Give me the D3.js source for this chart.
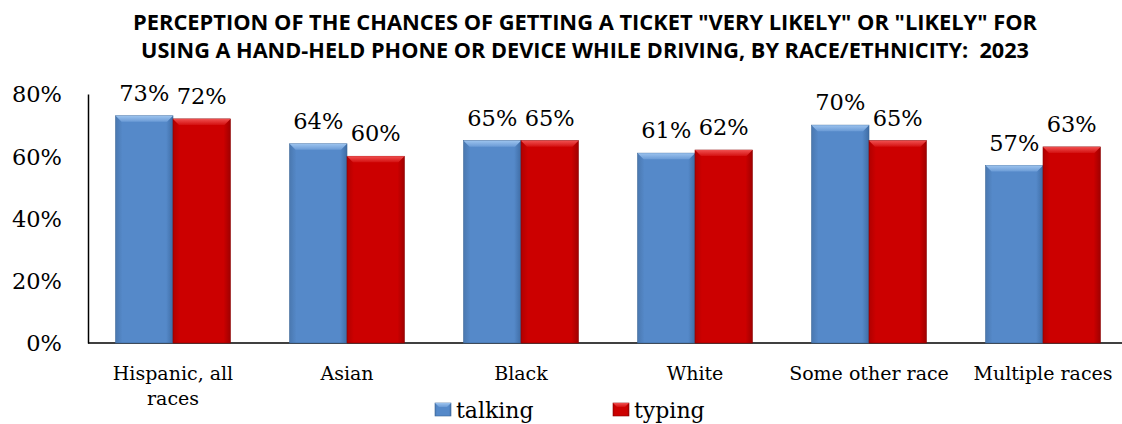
<!DOCTYPE html>
<html><head><meta charset="utf-8">
<script src="https://cdn.jsdelivr.net/npm/d3@7"></script>
<style>body{margin:0;background:#fff}svg{display:block}</style>
</head><body><div id="chart"></div>
<script>
const categories = ["Hispanic, all races","Asian","Black","White","Some other race","Multiple races"];
const categoryLines = [["Hispanic, all","races"],["Asian"],["Black"],["White"],["Some other race"],["Multiple races"]];
const seriesNames = ["talking","typing"];
const talking = [73,64,65,61,70,57];
const typing = [72,60,65,62,65,63];
const yTicks = [0,20,40,60,80];
const titleLines = ["PERCEPTION OF THE CHANCES OF GETTING A TICKET \"VERY LIKELY\" OR \"LIKELY\" FOR","USING A HAND-HELD PHONE OR DEVICE WHILE DRIVING, BY RACE/ETHNICITY:  2023"];

const W=1122,H=424;
const svg=d3.select("#chart").append("svg").attr("width",W).attr("height",H);
const defs=svg.append("defs");
function grad(id,c0,c1,c2){
  const g=defs.append("linearGradient").attr("id",id).attr("x1","0").attr("x2","1").attr("y1","0").attr("y2","0");
  g.append("stop").attr("offset","0").attr("stop-color",c0);
  g.append("stop").attr("offset","0.12").attr("stop-color",c1);
  g.append("stop").attr("offset","0.88").attr("stop-color",c1);
  g.append("stop").attr("offset","1").attr("stop-color",c2);
}
grad("gb","#4a78b0","#5589c9","#3f6da5");
grad("gr","#b00000","#cc0000","#a00000");
const topG=(id,c0,c1)=>{const g=defs.append("linearGradient").attr("id",id).attr("x1","0").attr("x2","0").attr("y1","0").attr("y2","1");
 g.append("stop").attr("offset","0").attr("stop-color",c0);g.append("stop").attr("offset","1").attr("stop-color",c1);};
topG("tb","#9cc3ee","#6b9bd6");
topG("tr","#f05050","#d41010");

const colors={talking:"url(#gb)",typing:"url(#gr)"};
const tops={talking:"url(#tb)",typing:"url(#tr)"};
const strokes={talking:"#3b6596",typing:"#8a0000"};

const x0=d3.scaleBand().domain(categories).range([86,1130]).paddingInner(0.34).paddingOuter(0.17);
const x1=d3.scaleBand().domain(seriesNames).range([0,x0.bandwidth()]);
const y=d3.scaleLinear().domain([0,80]).range([343,94]);

// title
svg.append("g").selectAll("text").data(titleLines).join("text")
 .attr("x",585).attr("y",(d,i)=>30+i*28).attr("text-anchor","middle")
 .attr("xml:space","preserve").style("white-space","pre")
 .attr("font-family","'Liberation Sans Narrow', 'Open Sans', sans-serif").attr("font-weight","bold").attr("font-size",20.5)
 .attr("textLength",(d,i)=>i===0?904:888).attr("lengthAdjust","spacingAndGlyphs")
 .text(d=>d);

// y axis
const yAxis=d3.axisLeft(y).tickValues(yTicks).tickFormat(d=>d+"%").tickSize(0).tickPadding(26);
const ya=svg.append("g").attr("transform","translate(88,0)").call(yAxis);
ya.select(".domain").attr("stroke","#000").attr("stroke-width",1.5);
ya.selectAll("text").attr("font-family","'DejaVu Serif', serif").attr("font-size",22.5).attr("fill","#000").attr("dy","0.35em");

// x axis line
const xa=d3.axisBottom(x0).tickSize(0).tickFormat("");
const xg=svg.append("g").attr("transform","translate(0,343)").call(xa);
xg.select(".domain").attr("stroke","#000").attr("stroke-width",1.5).attr("d","M88,0H1130");

// category labels
const cl=svg.append("g");
categories.forEach((c,i)=>{
  const t=cl.append("text").attr("x",x0(c)+x0.bandwidth()/2).attr("y",380).attr("text-anchor","middle")
   .attr("font-family","'DejaVu Serif', serif").attr("font-size",19).attr("fill","#000");
  categoryLines[i].forEach((l,j)=>t.append("tspan").attr("x",x0(c)+x0.bandwidth()/2).attr("dy",j?25:0).text(l));
});

// bars
const data={talking,typing};
seriesNames.forEach(s=>{
  const g=svg.append("g");
  categories.forEach((c,i)=>{
    const v=data[s][i];
    const bx=x0(c)+x1(s), bw=x1.bandwidth(), by=y(v), bh=y(0)-y(v);
    g.append("rect").attr("x",bx).attr("y",by).attr("width",bw).attr("height",bh)
     .attr("fill",colors[s]).attr("stroke",strokes[s]).attr("stroke-width",0.6);
    g.append("path").attr("d",`M${bx},${by}H${bx+bw}L${bx+bw-6},${by+6}H${bx+6}Z`).attr("fill",tops[s]);
    g.append("text").attr("x",bx+bw/2).attr("y",by-15).attr("text-anchor","middle")
     .attr("font-family","'DejaVu Serif', serif").attr("font-size",22.5).attr("fill","#000").text(v+"%");
  });
});

// legend
const legX={talking:435,typing:613};
seriesNames.forEach(s=>{
  const g=svg.append("g");
  g.append("rect").attr("x",legX[s]).attr("y",403).attr("width",16).attr("height",13).attr("fill",colors[s]).attr("stroke",strokes[s]).attr("stroke-width",0.6);
  g.append("path").attr("d",`M${legX[s]},403H${legX[s]+16}L${legX[s]+12},407H${legX[s]+4}Z`).attr("fill",tops[s]);
  g.append("text").attr("x",legX[s]+21).attr("y",418).attr("font-family","'DejaVu Serif', serif").attr("font-size",22).attr("fill","#000").text(s);
});
</script></body></html>
